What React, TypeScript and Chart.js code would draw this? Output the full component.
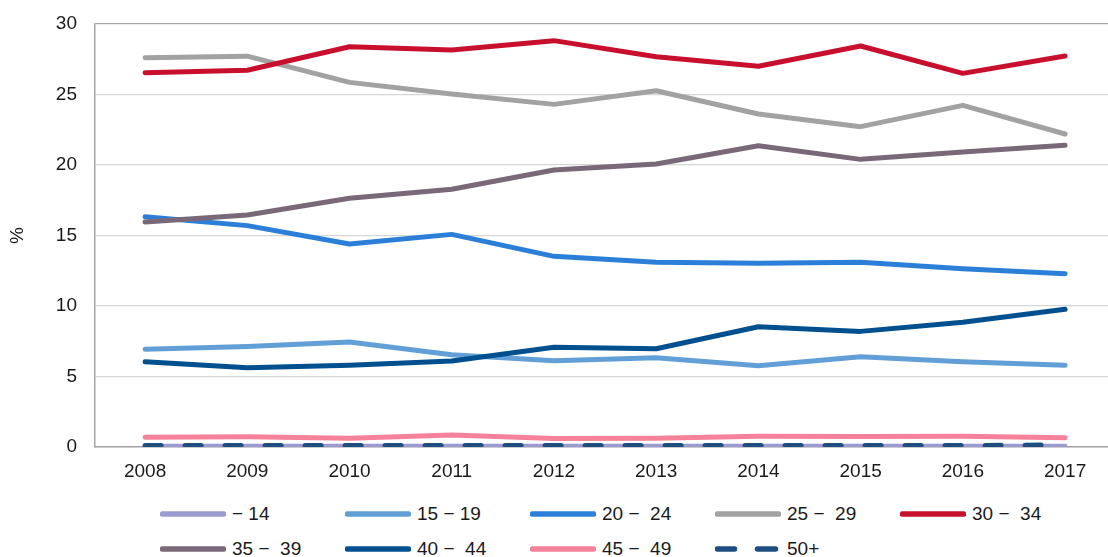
import React, { useEffect, useRef } from "react";
import { Chart, registerables } from "chart.js";

Chart.register(...registerables);

const years = [2008, 2009, 2010, 2011, 2012, 2013, 2014, 2015, 2016, 2017];

const labels = ["− 14", "15 − 19", "20 −  24", "25 −  29", "30 −  34", "35 −  39", "40 −  44", "45 −  49", "50+"];

const s14 = [0.05, 0.05, 0.05, 0.05, 0.05, 0.05, 0.05, 0.05, 0.05, 0.06];
const s15_19 = [6.93, 7.12, 7.45, 6.55, 6.12, 6.33, 5.77, 6.4, 6.05, 5.79];
const s20_24 = [16.33, 15.7, 14.4, 15.08, 13.52, 13.1, 13.03, 13.1, 12.65, 12.29];
const s25_29 = [27.61, 27.72, 25.86, 25.04, 24.3, 25.27, 23.62, 22.72, 24.23, 22.2];
const s30_34 = [26.55, 26.72, 28.39, 28.16, 28.82, 27.68, 27.0, 28.44, 26.5, 27.73];
const s35_39 = [15.96, 16.45, 17.64, 18.28, 19.65, 20.07, 21.37, 20.4, 20.92, 21.4];
const s40_44 = [6.05, 5.62, 5.8, 6.1, 7.07, 6.97, 8.53, 8.2, 8.85, 9.77];
const s45_49 = [0.7, 0.73, 0.62, 0.85, 0.6, 0.62, 0.76, 0.75, 0.76, 0.65];
const s50 = [0.1, 0.1, 0.1, 0.1, 0.1, 0.1, 0.1, 0.1, 0.1, 0.15];

const seriesValues = [s14, s15_19, s20_24, s25_29, s30_34, s35_39, s40_44, s45_49, s50];
const colors = ["#9b9bd2", "#629fd6", "#2b7fd8", "#a2a2a2", "#c8102e", "#786878", "#00508f", "#f6819a", "#1e4d80"];
const dashed = [false, false, false, false, false, false, false, false, true];

const yTicks = [0, 5, 10, 15, 20, 25, 30];

const FONT = "'Liberation Sans', Arial, sans-serif";

export default function App() {
  const ref = useRef<HTMLCanvasElement | null>(null);

  useEffect(() => {
    const canvas = ref.current;
    if (!canvas) return;
    const n = seriesValues.length;
    const chart = new Chart(canvas, {
      type: "line",
      data: {
        datasets: seriesValues.map((vals, i) => ({
          label: labels[i],
          data: vals.map((v, j) => ({ x: years[j], y: v })),
          borderColor: colors[i],
          backgroundColor: colors[i],
          borderWidth: 5,
          pointRadius: 0,
          tension: 0,
          fill: false,
          borderCapStyle: "round" as const,
          borderJoinStyle: "round" as const,
          borderDash: dashed[i] ? [16, 24] : [],
          order: n - i,
        })),
      },
      options: {
        animation: false,
        responsive: false,
        devicePixelRatio: 1,
        layout: { padding: { top: 24, right: 0, left: 0, bottom: 0 } },
        plugins: {
          legend: { display: false },
          tooltip: { enabled: false },
        },
        scales: {
          x: {
            type: "linear",
            min: 2007.51,
            max: 2017.42,
            afterBuildTicks: (scale: any) => {
              scale.ticks = years.map((v) => ({ value: v }));
            },
            afterFit: (scale: any) => {
              scale.height = 43;
            },
            grid: { display: false, drawTicks: false },
            border: { display: true, color: "#a6a6a6", width: 1.5 },
            ticks: {
              padding: 13,
              color: "#1a1a1a",
              font: { family: FONT, size: 19 },
              callback: (v: any) => String(v),
              maxRotation: 0,
              autoSkip: false,
            },
          },
          y: {
            min: 0,
            max: 30,
            afterBuildTicks: (scale: any) => {
              scale.ticks = yTicks.map((v) => ({ value: v }));
            },
            afterFit: (scale: any) => {
              scale.width = 95;
              scale.paddingTop = 6;
              scale.paddingBottom = 6;
            },
            grid: {
              drawTicks: false,
              color: (ctx: any) => (ctx.tick && ctx.tick.value === 30 ? "#a6a6a6" : "#d6d6d6"),
              lineWidth: 1.3,
            },
            border: { display: true, color: "#a6a6a6", width: 1.5 },
            ticks: {
              padding: 18,
              color: "#1a1a1a",
              font: { family: FONT, size: 19 },
            },
            title: {
              display: true,
              text: "%",
              color: "#1a1a1a",
              font: { family: FONT, size: 19 },
              padding: { top: 6, bottom: 0 },
            },
          },
        },
      },
    });
    return () => chart.destroy();
  }, []);

  const colLeft = [160, 345, 530, 715, 900];
  const rowCenter = [514, 549];

  return (
    <div style={{ position: "absolute", left: 0, top: 0, width: 1108, height: 557, background: "#fff", overflow: "hidden" }}>
      <canvas ref={ref} width={1108} height={490} style={{ position: "absolute", left: 0, top: 0, width: 1108, height: 490 }} />
      {labels.map((lab, i) => {
        const col = i % 5;
        const row = Math.floor(i / 5);
        return (
          <div
            key={lab}
            style={{
              position: "absolute",
              left: colLeft[col],
              top: rowCenter[row] - 12,
              height: 24,
              display: "flex",
              alignItems: "center",
              fontFamily: FONT,
              fontSize: 19,
              color: "#1a1a1a",
              whiteSpace: "pre",
            }}
          >
            <svg width={66} height={10} style={{ display: "block", marginRight: 6 }}>
              {dashed[i] ? (
                <>
                  <line x1={2.5} y1={5} x2={19.5} y2={5} stroke={colors[i]} strokeWidth={5.5} strokeLinecap="round" />
                  <line x1={42.5} y1={5} x2={60.5} y2={5} stroke={colors[i]} strokeWidth={5.5} strokeLinecap="round" />
                </>
              ) : (
                <line x1={2.5} y1={5} x2={63.5} y2={5} stroke={colors[i]} strokeWidth={5.5} strokeLinecap="round" />
              )}
            </svg>
            <span>{lab}</span>
          </div>
        );
      })}
    </div>
  );
}
